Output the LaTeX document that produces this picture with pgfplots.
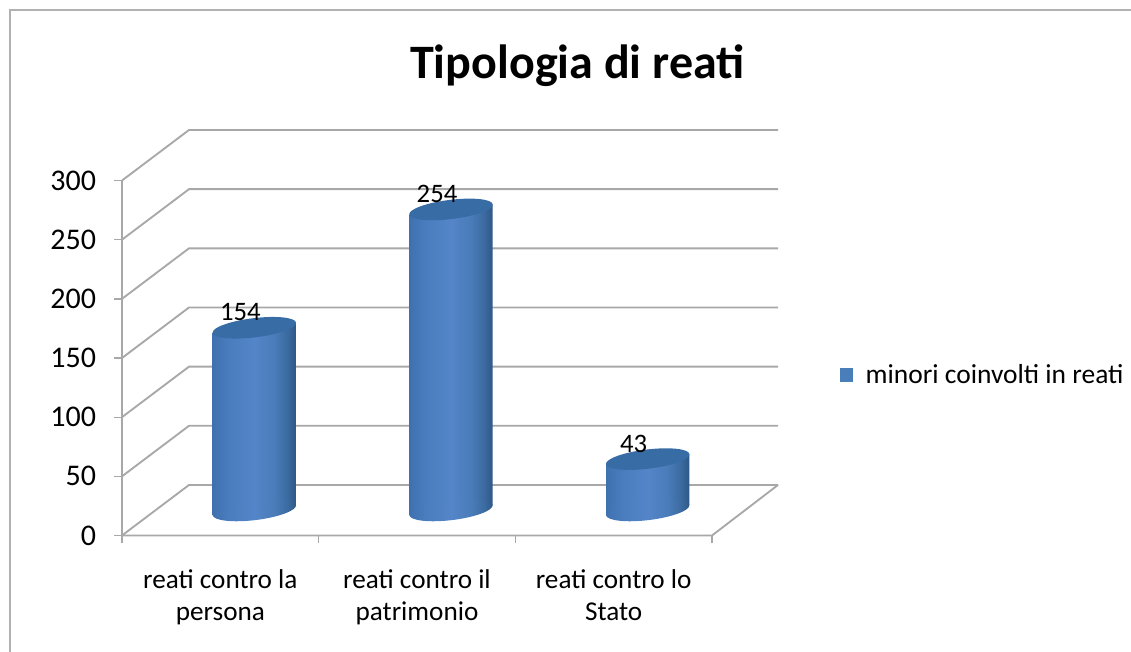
\documentclass[border=0pt]{standalone}
\usepackage{fontspec}
\setmainfont{Carlito}
\usepackage{pgfplots}
\pgfplotsset{compat=1.18}
\definecolor{gridgray}{HTML}{A8A8A8}
\definecolor{cyltopc}{HTML}{386CA5}
\definecolor{legblue}{HTML}{4A7EBB}
\definecolor{c0}{HTML}{3F71B0}
\definecolor{c1}{HTML}{4A7DBE}
\definecolor{c2}{HTML}{5385C8}
\definecolor{c3}{HTML}{4A7CBA}
\definecolor{c4}{HTML}{3A6A9F}
\definecolor{c5}{HTML}{2E5786}
\pgfdeclarehorizontalshading{cyl}{100bp}{
  color(0bp)=(c0);
  color(25bp)=(c0);
  color(35bp)=(c1);
  color(50bp)=(c2);
  color(62bp)=(c3);
  color(70bp)=(c4);
  color(75bp)=(c5);
  color(100bp)=(c5)}
\pgfdeclareplotmark{cyltop}{%
  \pgfsetfillcolor{cyltopc}%
  \pgfpathellipse{\pgfpointorigin}{\pgfqpoint{31.3pt}{3.8pt}}{\pgfqpoint{-0.88pt}{7.15pt}}\pgfusepath{fill}}
\pgfdeclareplotmark{cylbase}{%
  \pgfpathellipse{\pgfpointorigin}{\pgfqpoint{31.3pt}{3.8pt}}{\pgfqpoint{-0.92pt}{7.55pt}}\pgfshadepath{cyl}{0}\pgfusepath{discard}}
\begin{document}
\begin{tikzpicture}
\path[use as bounding box] (0,0) rectangle (848.25pt,489pt);
\draw[gridgray!90,line width=1.4pt] (7.5pt,0) -- (7.5pt,481.5pt) -- (848.25pt,481.5pt);
\node[font=\bfseries\fontsize{36}{40}\selectfont,anchor=center] at (433pt,440pt) {Tipologia di reati};
\begin{axis}[
  at={(91.5pt,87.375pt)},anchor=south west,
  scale only axis,width=492pt,height=304.125pt,
  xmin=0,xmax=3.3356,ymin=0,ymax=342.7,clip=false,
  axis lines=left,
  axis line style={draw=none,-},
  xtick={0,1,2,3},
  xticklabels={{reati contro la\\persona},{reati contro il\\patrimonio},{reati contro lo\\Stato}},
  x tick label as interval,
  ytick={0,50,100,150,200,250,300},
  tick align=outside,
  major tick length=6pt,
  tick style={gridgray,line width=1pt},
  /pgf/number format/assume math mode=true,
  yticklabel style={font=\fontsize{22.5}{25}\selectfont,text=black,xshift=-10pt},
  xticklabel style={font=\fontsize{20.4}{24}\selectfont,align=center,text=black,yshift=-16pt},
]
\addplot[gridgray,line width=1.4pt] coordinates {(0,0) (0,300)};
\addplot[gridgray,line width=1.4pt] coordinates {(0,0) (3,0) (3.3356,42.7)};
\addplot[gridgray,line width=1.4pt] coordinates {(0,0) (0.3407,42.7) (3.3356,42.7)};
\addplot[gridgray,line width=1.4pt] coordinates {(0,50) (0.3407,92.7) (3.3356,92.7)};
\addplot[gridgray,line width=1.4pt] coordinates {(0,100) (0.3407,142.7) (3.3356,142.7)};
\addplot[gridgray,line width=1.4pt] coordinates {(0,150) (0.3407,192.7) (3.3356,192.7)};
\addplot[gridgray,line width=1.4pt] coordinates {(0,200) (0.3407,242.7) (3.3356,242.7)};
\addplot[gridgray,line width=1.4pt] coordinates {(0,250) (0.3407,292.7) (3.3356,292.7)};
\addplot[gridgray,line width=1.4pt] coordinates {(0,300) (0.3407,342.7) (3.3356,342.7)};
\end{axis}
\begin{axis}[
  at={(117pt,106.5pt)},anchor=south west,
  scale only axis,width=442.5pt,height=266.25pt,
  xmin=0,xmax=3,ymin=0,ymax=300,clip=false,
  hide axis,
  legend style={draw=none,fill=none,
    at={(rel axis cs:1.402,0.38)},anchor=center,font=\fontsize{20.6}{24}\selectfont,
    inner sep=0pt},
  legend image code/.code={\fill[legblue,draw=none] (0pt,-5pt) rectangle (10pt,5pt); \path (17pt,0pt);},
]
\addlegendimage{}
\addlegendentry{minori coinvolti in reati}
\addplot[only marks,mark=cylbase,forget plot] coordinates {(0.5,0) (1.5,0) (2.5,0)};
\addplot[ybar,bar width=62.4pt,bar shift=0pt,draw=none,shading=cyl,forget plot,cm={1,0.1228,0,1,(0pt,-9.06pt)}] coordinates {(0.5,154)};
\addplot[ybar,bar width=62.4pt,bar shift=0pt,draw=none,shading=cyl,forget plot,cm={1,0.1228,0,1,(0pt,-27.17pt)}] coordinates {(1.5,254)};
\addplot[ybar,bar width=62.4pt,bar shift=0pt,draw=none,shading=cyl,forget plot,cm={1,0.1228,0,1,(0pt,-45.28pt)}] coordinates {(2.5,43)};
\addplot[only marks,mark=cyltop,forget plot,
  nodes near coords,
  nodes near coords style={font=\fontsize{20}{22}\selectfont,text=black,anchor=center,xshift=-10.5pt,yshift=11.5pt},
  point meta=explicit symbolic] coordinates {(0.5,154)[154] (1.5,254)[254] (2.5,43)[43]};
\end{axis}
\end{tikzpicture}
\end{document}
